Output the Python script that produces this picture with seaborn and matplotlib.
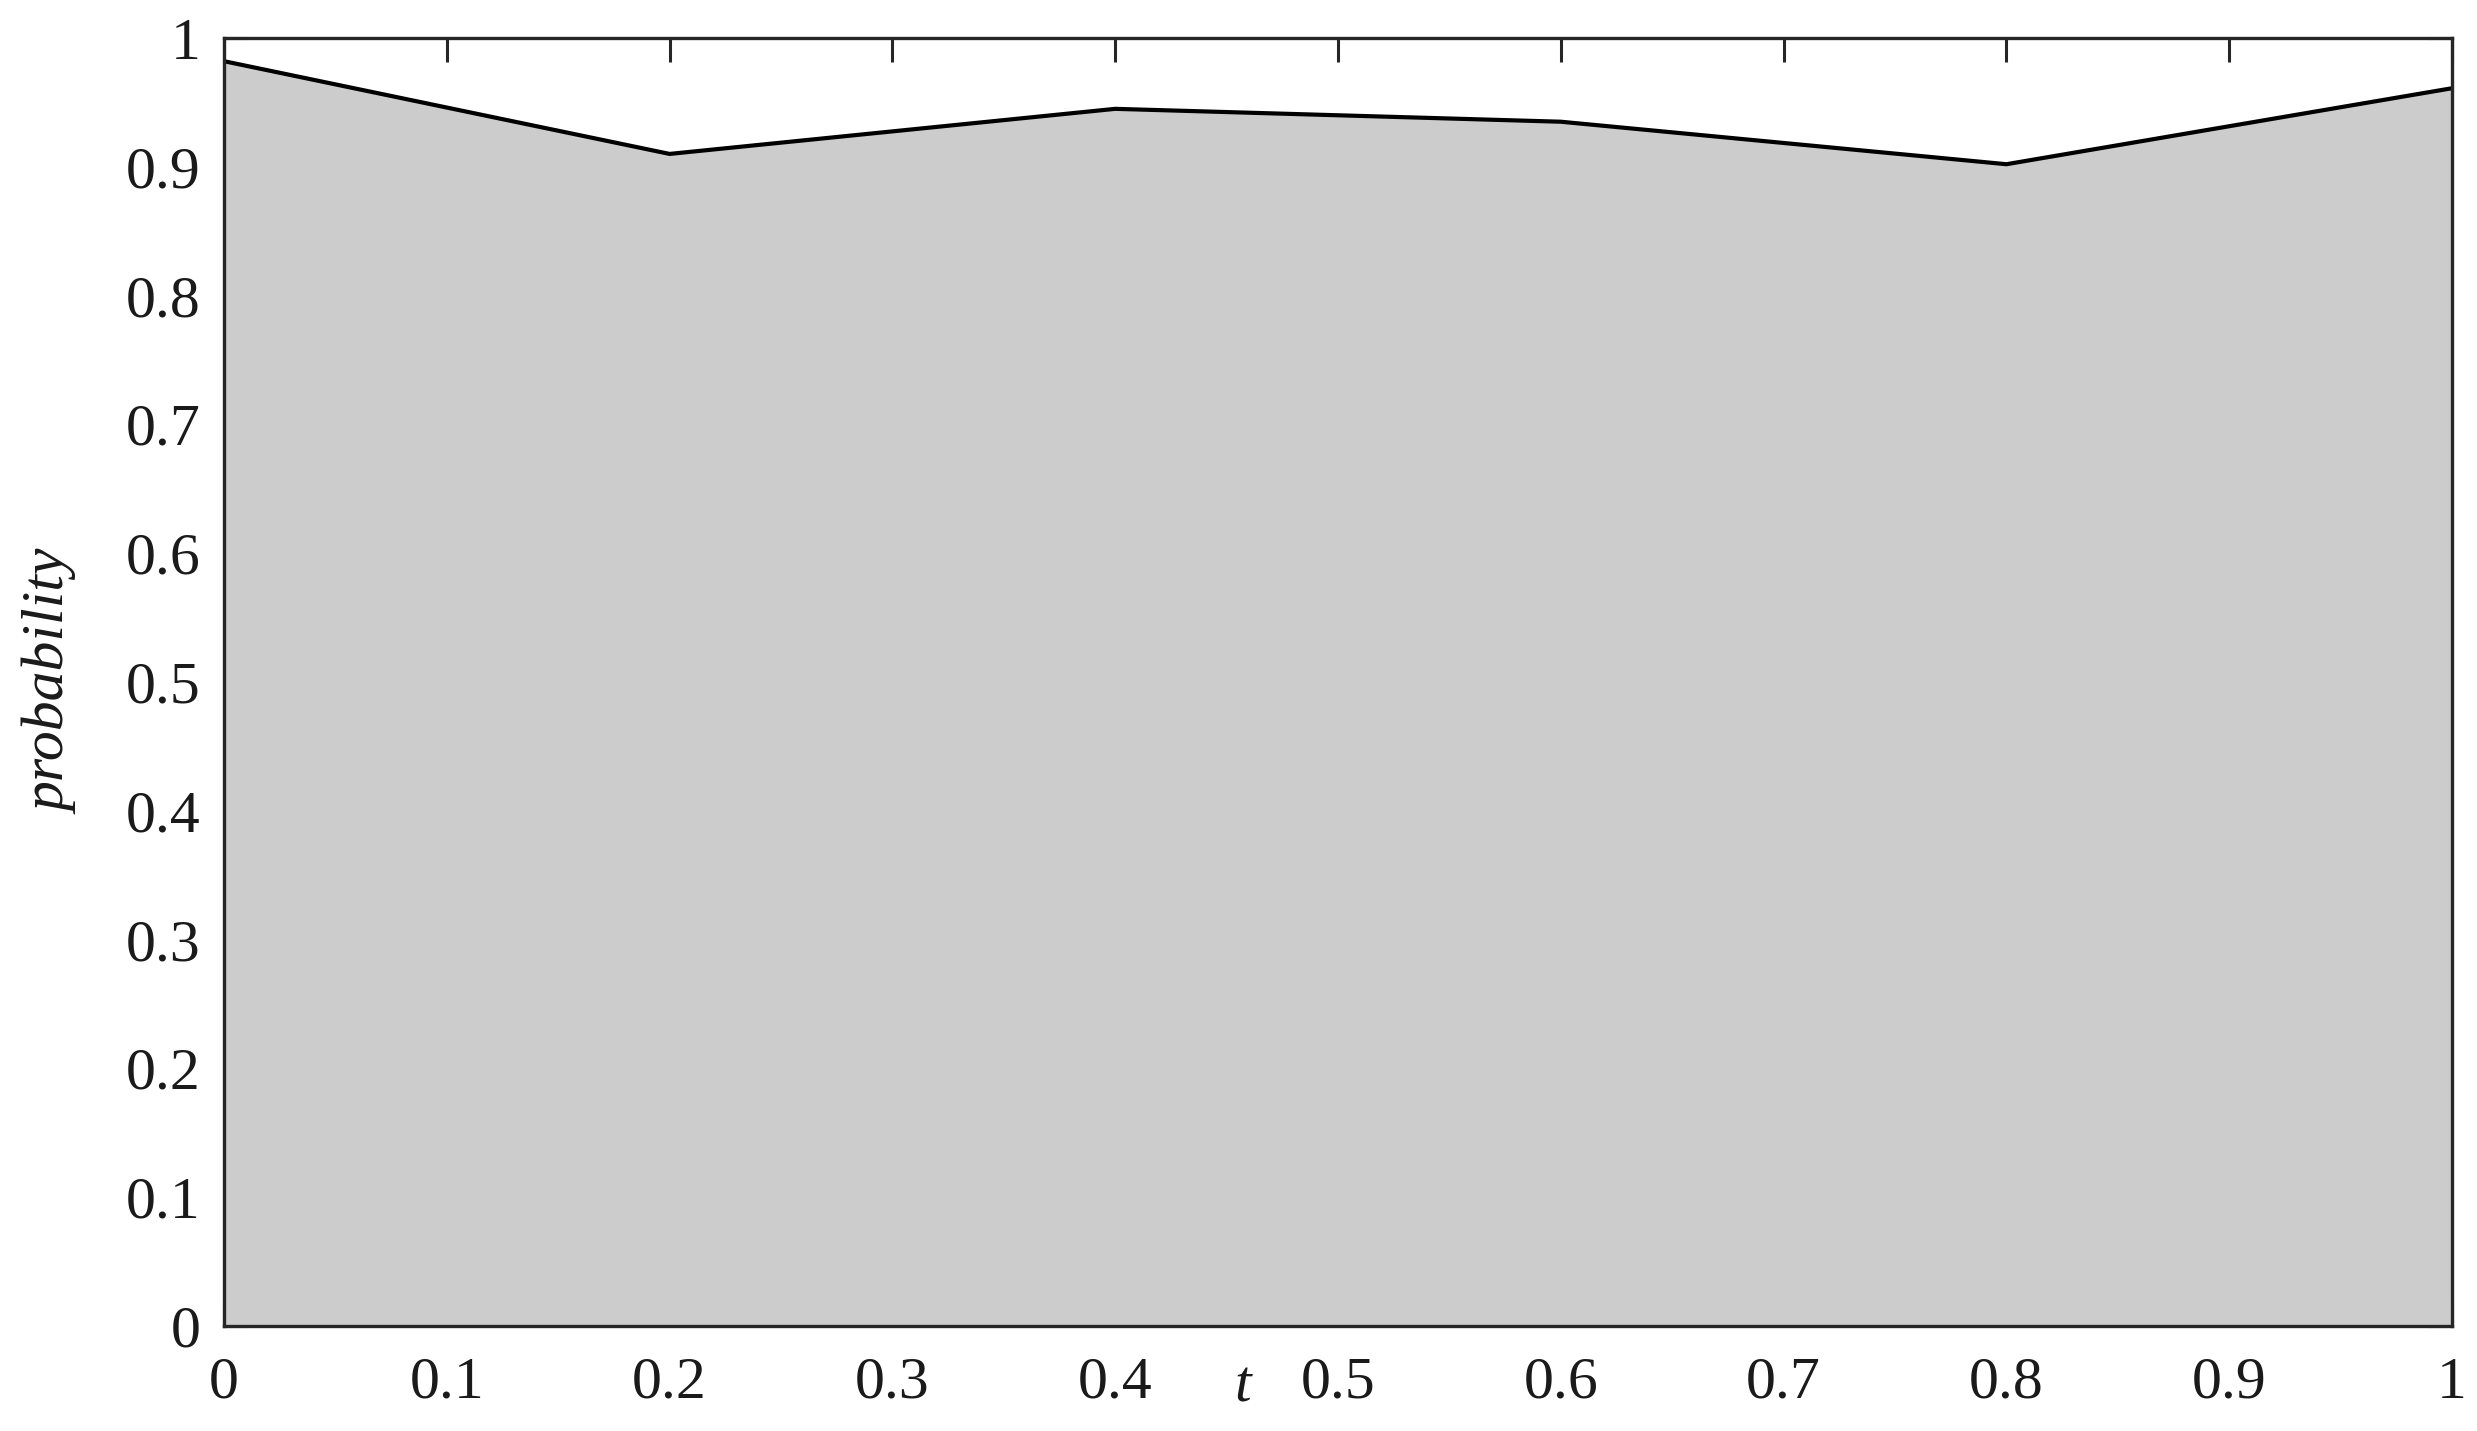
import pandas as pd
import matplotlib
matplotlib.use('Agg')
import matplotlib.pyplot as plt
import seaborn as sns

# data
t_values = [0.0, 0.2, 0.4, 0.6, 0.8, 1.0]
probability = [0.982, 0.910, 0.945, 0.935, 0.902, 0.961]

tick_values = [0, 0.1, 0.2, 0.3, 0.4, 0.5, 0.6, 0.7, 0.8, 0.9, 1]
tick_labels = ['0', '0.1', '0.2', '0.3', '0.4', '0.5', '0.6', '0.7', '0.8', '0.9', '1']

df = pd.DataFrame({'t': t_values, 'probability': probability})

sns.set_theme(style='ticks')
plt.rcParams['font.family'] = ['Liberation Serif', 'DejaVu Serif']

fig = plt.figure(figsize=(24.77, 14.31), dpi=100)
ax = fig.add_axes([224 / 2477, 1 - 1326 / 1431, (2452 - 224) / 2477, (1326 - 38) / 1431])

# grey area under the curve
ax.fill_between(df['t'], 0, df['probability'], color='#cccccc', linewidth=0, zorder=1)
sns.lineplot(data=df, x='t', y='probability', color='black', linewidth=3.0, ax=ax, zorder=2)

ax.set_xlim(0, 1)
ax.set_ylim(0, 1)
ax.set_xticks(tick_values)
ax.set_xticklabels(tick_labels)
ax.set_yticks(tick_values)
ax.set_yticklabels(tick_labels)

ax.tick_params(axis='both', which='major', direction='in', length=17, width=2.2,
               color='#262626', labelsize=43, labelcolor='#1a1a1a',
               top=True, right=True)
ax.tick_params(axis='x', pad=22)
ax.tick_params(axis='y', pad=17)

for side in ['top', 'bottom', 'left', 'right']:
    ax.spines[side].set_visible(True)
    ax.spines[side].set_linewidth(2.4)
    ax.spines[side].set_color('#262626')

ax.set_xlabel('t', fontsize=43, style='italic', color='#1a1a1a')
ax.xaxis.set_label_coords(0.457, -0.048)
ax.xaxis.label.set_va('center')
ax.set_ylabel('probability', fontsize=43, style='italic', color='#1a1a1a')
ax.yaxis.set_label_coords(-0.077, 0.5)
ax.yaxis.label.set_va('center')

fig.savefig('out.png', dpi=100, facecolor='white')
